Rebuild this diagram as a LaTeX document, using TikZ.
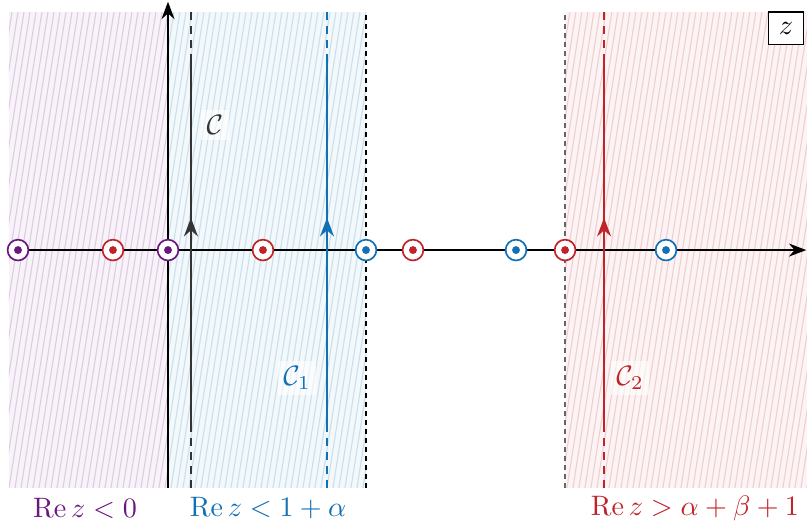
\documentclass[tikz,border=0pt]{standalone}
\usepackage{amsmath}
\usetikzlibrary{arrows.meta}
\definecolor{purp}{RGB}{108,22,128}
\definecolor{blu}{RGB}{18,112,180}
\definecolor{rd}{RGB}{192,36,42}
\definecolor{cgray}{RGB}{52,52,52}

\begin{document}
\begin{tikzpicture}[x=1.875cm,y=1.875cm,>=Stealth,
 pole/.style={circle,draw=#1,fill=white,line width=0.6pt,minimum size=7.4pt,inner sep=0pt,
   path picture={\fill[#1] (path picture bounding box.center) circle (1.4pt);}},
 bound/.style={line width=0.55pt,dash pattern=on 1.8pt off 1.4pt},
 cont/.style={line width=0.8pt},
 tail/.style={line width=0.8pt,dash pattern=on 3pt off 2pt},
 lbl/.style={fill=white,fill opacity=0.6,text opacity=1,inner sep=2pt}]
\useasboundingbox (-1.12,-1.847) rectangle (4.26,1.667);
\foreach \xa/\xb/\col in {-1.06/0/purp,0/1.32/blu,2.647/4.27/rd}{
  \begin{scope}
  \clip (\xa,-1.587) rectangle (\xb,1.587);
  \fill[\col!5] (\xa,-1.587) rectangle (\xb,1.587);
  \foreach \s in {-1.7,-1.66,...,4.4}
    \draw[\col!22,line width=0.4pt] (\s,-1.587) -- ++(0.5,3.174);
  \end{scope}}
\draw[bound,black] (1.32,-1.587) -- (1.32,1.587);
\draw[bound,black!60] (2.647,-1.587) -- (2.647,1.587);
\draw[->,line width=0.7pt] (-1.06,0) -- (4.255,0);
\draw[->,line width=0.7pt] (0,-1.587) -- (0,1.655);
\foreach \x/\col/\nm in {0.153/cgray/c,1.06/blu/ca,2.907/rd/cb}{
  \draw[tail,\col] (\x,-1.587) -- (\x,-1.2);
  \draw[cont,\col,->] (\x,-1.2) -- (\x,0.215);
  \draw[cont,\col] (\x,0.2) -- (\x,1.25);
  \draw[tail,\col] (\x,1.25) -- (\x,1.587);}
\node[pole=purp] (pm1) at (-1,0) {};
\node[pole=purp] (p0) at (0,0) {};
\node[pole=rd] (r0) at (-0.367,0) {};
\node[pole=rd] (r1) at (0.633,0) {};
\node[pole=rd] (r2) at (1.633,0) {};
\node[pole=rd] (r3) at (2.647,0) {};
\node[pole=blu] (b1) at (1.32,0) {};
\node[pole=blu] (b2) at (2.32,0) {};
\node[pole=blu] (b3) at (3.32,0) {};
\node[lbl,text=cgray] (lc) at (0.313,0.833) {$\mathcal{C}$};
\node[lbl,text=blu] (lc1) at (0.86,-0.853) {$\mathcal{C}_1$};
\node[lbl,text=rd] (lc2) at (3.08,-0.853) {$\mathcal{C}_2$};
\node[draw,fill=white,line width=0.5pt,inner sep=3.6pt] (zz) at (4.12,1.48) {$z$};
\node[text=purp] (h0) at (-0.553,-1.72) {$\operatorname{Re} z<0$};
\node[text=blu] (h1) at (0.667,-1.72) {$\operatorname{Re} z<1+\alpha$};
\node[text=rd] (h2) at (3.513,-1.72) {$\operatorname{Re} z>\alpha+\beta+1$};
\end{tikzpicture}
\end{document}
